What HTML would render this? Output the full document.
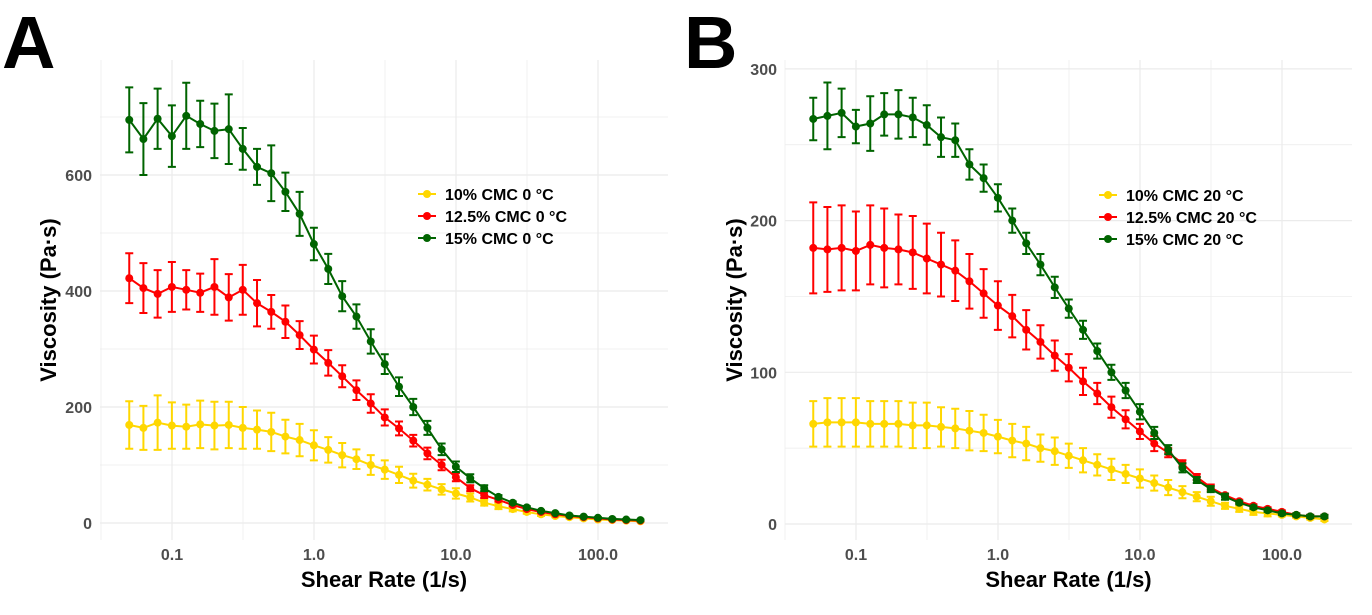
<!DOCTYPE html>
<html><head><meta charset="utf-8"><style>
body{margin:0;background:#fff;}
svg{display:block;font-family:"Liberation Sans",Arial,sans-serif;}
</style></head><body>
<svg id="chart" width="1372" height="615" xmlns="http://www.w3.org/2000/svg"></svg>
<script>
const shearRates = [];
for (let k = 0; k < 37; k++) shearRates.push(+(0.05 * Math.pow(10, k / 10)).toPrecision(3));
const xTickValues = [0.1, 1, 10, 100];
const xTickLabels = ["0.1", "1.0", "10.0", "100.0"];
const legendLabelsA = ["10% CMC 0 °C", "12.5% CMC 0 °C", "15% CMC 0 °C"];
const legendLabelsB = ["10% CMC 20 °C", "12.5% CMC 20 °C", "15% CMC 20 °C"];
const yTicksA = [0, 200, 400, 600];
const yTicksB = [0, 100, 200, 300];
const yellowA = [169,164,173,168,166,170,168,169,164,161,157,149,143,134,126,117,110,100,92,83,73,66,58,51,44,35,29,24,19,15,12,10,8,6,5,4,3];
const yellowAErr = [41,38,47,40,38,41,41,40,36,33,33,29,28,26,22,21,17,17,16,14,12,10,9,9,7,5,5,4,3,3,2,2,2,1,1,1,1];
const redA = [422,405,395,407,402,397,407,389,402,379,364,347,324,299,276,253,229,206,182,163,142,120,100,79,60,48,40,31,24,19,15,12,10,8,6,5,4];
const redAErr = [43,43,41,43,34,33,48,40,43,40,29,28,24,24,22,19,17,16,14,12,10,10,9,7,5,5,3,2,2,2,1,1,1,1,1,1,1];
const greenA = [695,662,697,667,702,688,676,679,645,614,603,571,533,481,438,391,356,313,274,235,200,164,127,97,77,60,45,35,27,21,17,13,11,9,7,6,5];
const greenAErr = [56,62,52,53,57,40,47,60,36,31,48,33,38,28,26,26,21,21,17,16,14,12,10,9,7,5,3,2,2,1,1,1,1,1,1,1,1];
const yellowB = [66,67,67,67,66,66,66,65,65,64,63,61.5,60,57.6,55,53,50,48,45,42,39,36,33,30,27,24,21,18,15,12,10,8,7,6,5,4,3];
const yellowBErr = [15,16,16,16,15,15,15,15,15,13,13,13,12,11,11,11,9,9,8,8,7,7,6,6,5,5,4,3,3,2,2,2,2,1,1,1,1];
const redB = [182,181,182,180,184,182,181,179,175,171,167,160,152,144,137,128,120,111,103,94,86,77,69,61,53,47,40,31,24,19,15,12,10,8,6,5,5];
const redBErr = [30,28,28,26,26,26,23,24,23,21,20,18,16,16,14,13,11,10,9,9,7,7,6,5,5,3,2,2,2,1,1,1,1,1,1,1,1];
const greenB = [267,269,271,262,264,270,270,268,263,255,253,237,228,215,200,185,171,156,142,128,114,100,88,74,60,49,37,29,23,18,14,11,9,7,6,5,5];
const greenBErr = [14,22,16,11,18,14,16,13,13,13,11,10,9,9,8,7,7,7,6,6,5,5,5,5,4,3,3,2,2,2,1,1,1,1,1,1,1];

const colors = ["#FFD700", "#FF0000", "#006400"];
const NS = "http://www.w3.org/2000/svg";
const svg = document.getElementById("chart");
function mk(tag, attrs, parent) {
  const e = document.createElementNS(NS, tag);
  for (const k in attrs) e.setAttribute(k, attrs[k]);
  (parent || svg).appendChild(e);
  return e;
}

function panel(cfg) {
  const g = mk("g", {});
  
  
  const xs = v => cfg.x1 + cfg.xpd * Math.log10(v);
  const ys = v => cfg.y0 - cfg.ypu * v;
  // grid
  const grid = mk("g", {stroke: "#ebebeb", "stroke-width": 1}, g);
  
  
  for (let v = cfg.minorStep / 2 * 0; v <= cfg.ymax; v += cfg.minorStep) {
    const y = ys(v);
    if (y < cfg.top) continue;
    mk("line", {x1: cfg.left, x2: cfg.right, y1: y, y2: y, "stroke-width": v % cfg.majorStep === 0 ? 1.2 : 0.7}, grid);
  }
  for (let d = -1.5; d <= 2.6; d += 0.5) {
    const x = xs(Math.pow(10, d));
    if (x < cfg.left || x > cfg.right) continue;
    mk("line", {x1: x, x2: x, y1: cfg.top, y2: cfg.bottom, "stroke-width": Number.isInteger(d) ? 1.2 : 0.7}, grid);
  }
  // ticks
  cfg.yTicks.forEach(v => {
    const t = mk("text", {x: cfg.left - 8, y: ys(v) + 6, "text-anchor": "end", "font-size": 16, "font-weight": "bold", fill: "#4d4d4d"}, g);
    t.textContent = v;
    
    
  });
  xTickValues.forEach((v, i) => {
    const t = mk("text", {x: xs(v), y: cfg.bottom + 20, "text-anchor": "middle", "font-size": 16, "font-weight": "bold", fill: "#4d4d4d"}, g);
    t.textContent = xTickLabels[i];
    
    
  });
  // titles
  const xt = mk("text", {x: (cfg.left + cfg.right) / 2, y: 587, "text-anchor": "middle", "font-size": 22, "font-weight": "bold", fill: "#000"}, g);
  xt.textContent = "Shear Rate (1/s)";
  
  
  const cy = (cfg.top + cfg.bottom) / 2;
  const yt = mk("text", {x: cfg.ytx, y: cy, "text-anchor": "middle", "font-size": 22, "font-weight": "bold", fill: "#000", transform: `rotate(-90 ${cfg.ytx} ${cy})`}, g);
  yt.textContent = "Viscosity (Pa·s)";
  
  
  // series
  cfg.series.forEach((s, si) => {
    const sg = mk("g", {}, g);
    
    
    const c = colors[si];
    let dstr = "";
    s.vals.forEach((v, i) => { dstr += (i ? "L" : "M") + xs(shearRates[i]).toFixed(1) + " " + ys(v).toFixed(1); });
    const p = mk("path", {d: dstr, fill: "none", stroke: c, "stroke-width": 2}, sg);
    
    
    s.vals.forEach((v, i) => {
      const x = xs(shearRates[i]), e = s.err[i];
      const yt2 = ys(v + e), yb = ys(v - e);
      const eb = mk("path", {d: `M${x} ${yt2}V${yb}M${x - 4} ${yt2}H${x + 4}M${x - 4} ${yb}H${x + 4}`, stroke: c, "stroke-width": 2, fill: "none"}, sg);
      
      
      const pt = mk("circle", {cx: x, cy: ys(v), r: 4, fill: c}, sg);
      
      
    });
  });
  // legend
  const lg = mk("g", {}, g);
  
  
  cfg.legend.forEach((lab, i) => {
    const y = cfg.ly + i * 22;
    const eg = mk("g", {}, lg);
    
    
    mk("line", {x1: cfg.lx, x2: cfg.lx + 18, y1: y, y2: y, stroke: colors[i], "stroke-width": 2}, eg);
    mk("circle", {cx: cfg.lx + 9, cy: y, r: 4, fill: colors[i]}, eg);
    const t = mk("text", {x: cfg.lx + 27, y: y + 6, "font-size": 16, "font-weight": "bold", fill: "#000"}, eg);
    t.textContent = lab;
  });
  const L = mk("text", {x: cfg.letterX, y: 68, "font-size": 74, "font-weight": "bold", fill: "#000"}, g);
  L.textContent = cfg.letter;
  
  
}

panel({name: "panel-a", letter: "A", letterX: 2, left: 100, right: 668, top: 60, bottom: 540,
  x1: 314, xpd: 142, y0: 523, ypu: 0.58, ymax: 800, minorStep: 100, majorStep: 200,
  yTicks: yTicksA, ytx: 56, lx: 418, ly: 194, legend: legendLabelsA,
  series: [{key: "10pct", vals: yellowA, err: yellowAErr}, {key: "12-5pct", vals: redA, err: redAErr}, {key: "15pct", vals: greenA, err: greenAErr}]});
panel({name: "panel-b", letter: "B", letterX: 684, left: 785, right: 1352, top: 60, bottom: 540,
  x1: 998, xpd: 142, y0: 524, ypu: 1.517, ymax: 310, minorStep: 50, majorStep: 100,
  yTicks: yTicksB, ytx: 742, lx: 1099, ly: 195, legend: legendLabelsB,
  series: [{key: "10pct", vals: yellowB, err: yellowBErr}, {key: "12-5pct", vals: redB, err: redBErr}, {key: "15pct", vals: greenB, err: greenBErr}]});
</script>
</body></html>
